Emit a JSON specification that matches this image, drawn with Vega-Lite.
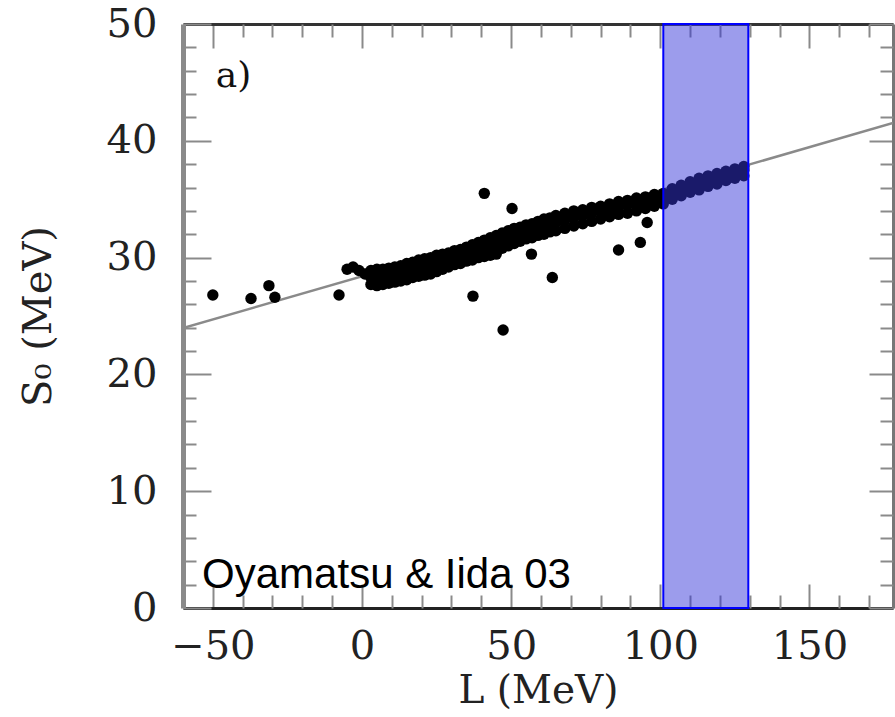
{
  "$schema": "https://vega.github.io/schema/vega-lite/v6.json",
  "width": 710,
  "height": 584,
  "autosize": {"type": "none"},
  "padding": {"left": 183, "top": 24, "right": 2, "bottom": 109},
  "background": "white",
  "config": {
    "view": {"stroke": null},
    "axis": {"grid": false, "tickColor": "#8a8a8a", "tickWidth": 2, "labelFont": "DejaVu Serif", "titleFont": "DejaVu Serif", "labelColor": "#222", "titleColor": "#222", "titleFontWeight": "normal"}
  },
  "datasets": {
    "pts": [
      {"L": -50, "S": 26.8}, {"L": -37.2, "S": 26.5}, {"L": -31.2, "S": 27.6}, {"L": -29.2, "S": 26.6}, {"L": -7.7, "S": 26.8},
      {"L": 41, "S": 35.5}, {"L": 50.3, "S": 34.2}, {"L": 37.2, "S": 26.7}, {"L": 47.3, "S": 23.8}, {"L": 63.8, "S": 28.3},
      {"L": 56.8, "S": 30.3}, {"L": 86, "S": 30.65}, {"L": 93.3, "S": 31.3}, {"L": 95.6, "S": 33.0},
      {"L": -5, "S": 29.0}, {"L": -3, "S": 29.2}, {"L": -1, "S": 28.9}, {"L": 1, "S": 28.6},
      {"L": 3, "S": 27.7}, {"L": 3, "S": 28.3}, {"L": 3, "S": 28.9},
      {"L": 5, "S": 27.6}, {"L": 5, "S": 28.2}, {"L": 5, "S": 29.0},
      {"L": 7, "S": 27.7}, {"L": 7, "S": 28.4}, {"L": 7, "S": 29.0},
      {"L": 9, "S": 27.8}, {"L": 9, "S": 28.5}, {"L": 9, "S": 29.1},
      {"L": 11, "S": 27.9}, {"L": 11, "S": 28.6}, {"L": 11, "S": 29.2},
      {"L": 13, "S": 28.0}, {"L": 13, "S": 28.7}, {"L": 13, "S": 29.3},
      {"L": 15, "S": 28.1}, {"L": 15, "S": 28.8}, {"L": 15, "S": 29.5},
      {"L": 17, "S": 28.3}, {"L": 17, "S": 29.0}, {"L": 17, "S": 29.6},
      {"L": 19, "S": 28.4}, {"L": 19, "S": 29.1}, {"L": 19, "S": 29.8},
      {"L": 21, "S": 28.5}, {"L": 21, "S": 29.3}, {"L": 21, "S": 29.9},
      {"L": 23, "S": 28.6}, {"L": 23, "S": 29.3}, {"L": 23, "S": 30.0},
      {"L": 25, "S": 28.8}, {"L": 25, "S": 29.5}, {"L": 25, "S": 30.2},
      {"L": 27, "S": 29.0}, {"L": 27, "S": 29.6}, {"L": 27, "S": 30.3},
      {"L": 29, "S": 29.2}, {"L": 29, "S": 29.8}, {"L": 29, "S": 30.4},
      {"L": 31, "S": 29.4}, {"L": 31, "S": 30.0}, {"L": 31, "S": 30.6},
      {"L": 33, "S": 29.5}, {"L": 33, "S": 30.1}, {"L": 33, "S": 30.7},
      {"L": 35, "S": 29.7}, {"L": 35, "S": 30.3}, {"L": 35, "S": 30.9},
      {"L": 37, "S": 29.8}, {"L": 37, "S": 30.5}, {"L": 37, "S": 31.1},
      {"L": 39, "S": 30.0}, {"L": 39, "S": 30.7}, {"L": 39, "S": 31.3},
      {"L": 41, "S": 30.1}, {"L": 41, "S": 30.8}, {"L": 41, "S": 31.5},
      {"L": 43, "S": 30.2}, {"L": 43, "S": 31.0}, {"L": 43, "S": 31.7},
      {"L": 45, "S": 30.3}, {"L": 45, "S": 31.2}, {"L": 45, "S": 31.9},
      {"L": 47, "S": 30.8}, {"L": 47, "S": 31.5}, {"L": 47, "S": 32.1},
      {"L": 49, "S": 31.0}, {"L": 49, "S": 31.7}, {"L": 49, "S": 32.3},
      {"L": 51, "S": 31.2}, {"L": 51, "S": 31.9}, {"L": 51, "S": 32.5},
      {"L": 53, "S": 31.4}, {"L": 53, "S": 32.0}, {"L": 53, "S": 32.6},
      {"L": 55, "S": 31.6}, {"L": 55, "S": 32.2}, {"L": 55, "S": 32.8},
      {"L": 57, "S": 31.7}, {"L": 57, "S": 32.3}, {"L": 57, "S": 32.9},
      {"L": 59, "S": 31.9}, {"L": 59, "S": 32.5}, {"L": 59, "S": 33.1},
      {"L": 61, "S": 32.0}, {"L": 61, "S": 32.7}, {"L": 61, "S": 33.3},
      {"L": 63, "S": 32.2}, {"L": 63, "S": 32.8}, {"L": 63, "S": 33.4},
      {"L": 65, "S": 32.3}, {"L": 65, "S": 33.0}, {"L": 65, "S": 33.6},
      {"L": 68, "S": 32.5}, {"L": 68, "S": 33.2}, {"L": 68, "S": 33.8},
      {"L": 71, "S": 32.7}, {"L": 71, "S": 33.4}, {"L": 71, "S": 34.0},
      {"L": 74, "S": 32.9}, {"L": 74, "S": 33.6}, {"L": 74, "S": 34.1},
      {"L": 77, "S": 33.1}, {"L": 77, "S": 33.8}, {"L": 77, "S": 34.3},
      {"L": 80, "S": 33.3}, {"L": 80, "S": 33.9}, {"L": 80, "S": 34.4},
      {"L": 83, "S": 33.5}, {"L": 83, "S": 34.1}, {"L": 83, "S": 34.6},
      {"L": 86, "S": 33.7}, {"L": 86, "S": 34.3}, {"L": 86, "S": 34.8},
      {"L": 89, "S": 33.8}, {"L": 89, "S": 34.5}, {"L": 89, "S": 34.9},
      {"L": 92, "S": 34.0}, {"L": 92, "S": 34.6}, {"L": 92, "S": 35.1},
      {"L": 95, "S": 34.2}, {"L": 95, "S": 34.8}, {"L": 95, "S": 35.2},
      {"L": 98, "S": 34.4}, {"L": 98, "S": 35.0}, {"L": 98, "S": 35.4},
      {"L": 101, "S": 34.6}, {"L": 101, "S": 35.2}, {"L": 101, "S": 35.5},
      {"L": 104, "S": 35.0}, {"L": 104, "S": 35.5}, {"L": 104, "S": 35.9},
      {"L": 107, "S": 35.3}, {"L": 107, "S": 35.8}, {"L": 107, "S": 36.2},
      {"L": 110, "S": 35.6}, {"L": 110, "S": 36.1}, {"L": 110, "S": 36.5},
      {"L": 113, "S": 35.8}, {"L": 113, "S": 36.3}, {"L": 113, "S": 36.8},
      {"L": 116, "S": 36.1}, {"L": 116, "S": 36.6}, {"L": 116, "S": 37.0},
      {"L": 119, "S": 36.3}, {"L": 119, "S": 36.8}, {"L": 119, "S": 37.2},
      {"L": 122, "S": 36.6}, {"L": 122, "S": 37.1}, {"L": 122, "S": 37.4},
      {"L": 125, "S": 36.8}, {"L": 125, "S": 37.3}, {"L": 125, "S": 37.6},
      {"L": 128, "S": 37.0}, {"L": 128, "S": 37.5}, {"L": 128, "S": 37.8}
    ],
    "fit": [{"L": -60, "S": 23.97}, {"L": 178, "S": 41.52}],
    "band": [{"L1": 101, "L2": 129.5, "S1": 0, "S2": 50}],
    "noteA": [{"L": -49, "S": 44.6, "label": "a)"}],
    "noteB": [{"L": -53.6, "S": 1.7, "label": "Oyamatsu & Iida 03"}]
  },
  "resolve": {"axis": {"x": "independent", "y": "independent"}},
  "layer": [
    {
      "data": {"name": "fit"},
      "mark": {"type": "line", "color": "#8a8a8a", "strokeWidth": 2.5, "clip": true},
      "encoding": {
        "x": {"field": "L", "type": "quantitative", "scale": {"domain": [-60, 178], "nice": false, "zero": false},
          "axis": {"orient": "bottom", "values": [-50, 0, 50, 100, 150], "tickSize": -24, "labelFontSize": 40, "labelPadding": 42, "labelFlush": false, "format": "d",
            "title": "L (MeV)", "titleFontSize": 39, "titlePadding": 5, "domainColor": "#222", "domainWidth": 3}},
        "y": {"field": "S", "type": "quantitative", "scale": {"domain": [0, 50], "nice": false, "zero": false},
          "axis": {"orient": "left", "values": [0, 10, 20, 30, 40, 50], "tickSize": -28, "labelFontSize": 40, "labelPadding": 54, "format": "d",
            "title": "S₀ (MeV)", "titleFontSize": 40, "titlePadding": 48, "domainColor": "#8a8a8a", "domainWidth": 5}}
      }
    },
    {
      "data": {"name": "pts"},
      "mark": {"type": "circle", "color": "#000000", "opacity": 1, "size": 130},
      "encoding": {
        "x": {"field": "L", "type": "quantitative", "scale": {"domain": [-60, 178], "nice": false, "zero": false},
          "axis": {"orient": "bottom", "values": [-40, -30, -20, -10, 10, 20, 30, 40, 60, 70, 80, 90, 110, 120, 130, 140, 160, 170], "tickSize": -13, "labels": false, "domain": false, "title": null}},
        "y": {"field": "S", "type": "quantitative", "scale": {"domain": [0, 50], "nice": false, "zero": false},
          "axis": {"orient": "left", "values": [2, 4, 6, 8, 12, 14, 16, 18, 22, 24, 26, 28, 32, 34, 36, 38, 42, 44, 46, 48], "tickSize": -13, "labels": false, "domain": false, "title": null}}
      }
    },
    {
      "data": {"name": "band"},
      "mark": {"type": "rect", "fill": "#3535d8", "fillOpacity": 0.49, "stroke": "#0000ff", "strokeWidth": 2},
      "encoding": {
        "x": {"field": "L1", "type": "quantitative", "scale": {"domain": [-60, 178], "nice": false, "zero": false},
          "axis": {"orient": "top", "values": [-50, 0, 50, 100, 150], "tickSize": -24, "labels": false, "title": null, "domainColor": "#333", "domainWidth": 3}},
        "x2": {"field": "L2"},
        "y": {"field": "S1", "type": "quantitative", "scale": {"domain": [0, 50], "nice": false, "zero": false},
          "axis": {"orient": "right", "values": [0, 10, 20, 30, 40, 50], "tickSize": -24, "labels": false, "title": null, "domainColor": "#777", "domainWidth": 3}},
        "y2": {"field": "S2"}
      }
    },
    {
      "data": {"name": "noteA"},
      "mark": {"type": "text", "font": "DejaVu Serif", "fontSize": 36, "align": "left", "baseline": "alphabetic", "color": "#111"},
      "encoding": {
        "x": {"field": "L", "type": "quantitative", "scale": {"domain": [-60, 178], "nice": false, "zero": false},
          "axis": {"orient": "top", "values": [-40, -30, -20, -10, 10, 20, 30, 40, 60, 70, 80, 90, 110, 120, 130, 140, 160, 170], "tickSize": -13, "labels": false, "domain": false, "title": null}},
        "y": {"field": "S", "type": "quantitative", "scale": {"domain": [0, 50], "nice": false, "zero": false},
          "axis": {"orient": "right", "values": [2, 4, 6, 8, 12, 14, 16, 18, 22, 24, 26, 28, 32, 34, 36, 38, 42, 44, 46, 48], "tickSize": -13, "labels": false, "domain": false, "title": null}},
        "text": {"field": "label"}
      }
    },
    {
      "data": {"name": "noteB"},
      "mark": {"type": "text", "font": "Liberation Sans", "fontSize": 42, "align": "left", "baseline": "alphabetic", "color": "#000"},
      "encoding": {
        "x": {"field": "L", "type": "quantitative", "scale": {"domain": [-60, 178], "nice": false, "zero": false}, "axis": null},
        "y": {"field": "S", "type": "quantitative", "scale": {"domain": [0, 50], "nice": false, "zero": false}, "axis": null},
        "text": {"field": "label"}
      }
    }
  ]
}
